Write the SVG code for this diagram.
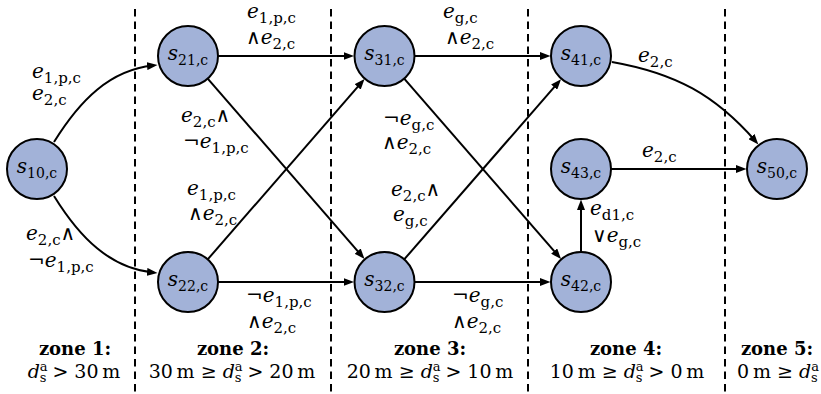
<svg xmlns="http://www.w3.org/2000/svg" width="821" height="394" viewBox="0 0 821 394">
<style>
text{font-family:"DejaVu Serif",serif;fill:#000}
.m{font-size:20px}
.n{font-size:20px}
.i{font-style:italic}
.sb{font-size:15px;font-style:normal}
.ns{font-size:14px;font-style:normal}
.b{font-weight:bold;font-size:18px}
.z{font-size:19px}
.zs{font-size:13px;font-style:normal}
.node circle{fill:#a2b2d8;stroke:#000;stroke-width:2}
.edge{fill:none;stroke:#000;stroke-width:2;marker-end:url(#ah)}
.zone{stroke:#000;stroke-width:2;stroke-dasharray:7.5 5}
</style>
<defs>
<marker id="ah" markerUnits="userSpaceOnUse" markerWidth="11" markerHeight="8" refX="6" refY="4" orient="auto">
<path d="M0,0 L10.5,4 L0,8 z" fill="#000"/>
</marker>
</defs>
<rect width="821" height="394" fill="#fff"/>
<g id="zones">
<line class="zone" x1="135" y1="9" x2="135" y2="394"/>
<line class="zone" x1="331" y1="9" x2="331" y2="394"/>
<line class="zone" x1="528" y1="9" x2="528" y2="394"/>
<line class="zone" x1="725" y1="9" x2="725" y2="394"/>
</g>
<g id="connectors">
<path class="edge" d="M54,142 C80,100 110,70 153,65.5"/>
<path class="edge" d="M54,196 C80,238 110,268 153,272.5"/>
<path class="edge" d="M218,56 H349.5"/>
<path class="edge" d="M414.5,56 H546"/>
<path class="edge" d="M218,282 H349.5"/>
<path class="edge" d="M414.5,282 H546"/>
<path class="edge" d="M207.7,78.6 L361.6,255.6"/>
<path class="edge" d="M207.7,259.4 L361.6,82.4"/>
<path class="edge" d="M404.2,78.6 L558.1,255.6"/>
<path class="edge" d="M404.2,259.4 L558.1,82.6"/>
<path class="edge" d="M581,252 V204"/>
<path class="edge" d="M611,169 H742"/>
<path class="edge" d="M612,62 C675.8,73.3 715,95 755.4,141"/>
</g>
<g id="edge-labels" class="m">
<text x="32" y="78"><tspan class="i">e</tspan><tspan class="sb" dy="5">1,p,c</tspan></text>
<text x="32" y="100"><tspan class="i">e</tspan><tspan class="sb" dy="5">2,c</tspan></text>
<text x="26" y="240"><tspan class="i">e</tspan><tspan class="sb" dy="5">2,c</tspan><tspan dy="-5">∧</tspan></text>
<text x="28" y="267"><tspan>¬</tspan><tspan class="i">e</tspan><tspan class="sb" dy="5">1,p,c</tspan></text>
<text x="247" y="18"><tspan class="i">e</tspan><tspan class="sb" dy="5">1,p,c</tspan></text>
<text x="246" y="44"><tspan>∧</tspan><tspan class="i">e</tspan><tspan class="sb" dy="5">2,c</tspan></text>
<text x="443" y="18"><tspan class="i">e</tspan><tspan class="sb" dy="5">g,c</tspan></text>
<text x="445" y="44"><tspan>∧</tspan><tspan class="i">e</tspan><tspan class="sb" dy="5">2,c</tspan></text>
<text x="181" y="122"><tspan class="i">e</tspan><tspan class="sb" dy="5">2,c</tspan><tspan dy="-5">∧</tspan></text>
<text x="183" y="148"><tspan>¬</tspan><tspan class="i">e</tspan><tspan class="sb" dy="5">1,p,c</tspan></text>
<text x="187" y="195"><tspan class="i">e</tspan><tspan class="sb" dy="5">1,p,c</tspan></text>
<text x="188" y="220"><tspan>∧</tspan><tspan class="i">e</tspan><tspan class="sb" dy="5">2,c</tspan></text>
<text x="383" y="125"><tspan>¬</tspan><tspan class="i">e</tspan><tspan class="sb" dy="5">g,c</tspan></text>
<text x="382" y="149"><tspan>∧</tspan><tspan class="i">e</tspan><tspan class="sb" dy="5">2,c</tspan></text>
<text x="391" y="196"><tspan class="i">e</tspan><tspan class="sb" dy="5">2,c</tspan><tspan dy="-5">∧</tspan></text>
<text x="393" y="221"><tspan class="i">e</tspan><tspan class="sb" dy="5">g,c</tspan></text>
<text x="246" y="302"><tspan>¬</tspan><tspan class="i">e</tspan><tspan class="sb" dy="5">1,p,c</tspan></text>
<text x="247" y="328"><tspan>∧</tspan><tspan class="i">e</tspan><tspan class="sb" dy="5">2,c</tspan></text>
<text x="452" y="302"><tspan>¬</tspan><tspan class="i">e</tspan><tspan class="sb" dy="5">g,c</tspan></text>
<text x="452" y="328"><tspan>∧</tspan><tspan class="i">e</tspan><tspan class="sb" dy="5">2,c</tspan></text>
<text x="638" y="62"><tspan class="i">e</tspan><tspan class="sb" dy="5">2,c</tspan></text>
<text x="642" y="157"><tspan class="i">e</tspan><tspan class="sb" dy="5">2,c</tspan></text>
<text x="590" y="215"><tspan class="i">e</tspan><tspan class="sb" dy="5">d1,c</tspan></text>
<text x="592" y="242"><tspan>∨</tspan><tspan class="i">e</tspan><tspan class="sb" dy="5">g,c</tspan></text>
</g>
<g id="nodes">
<g id="s10" class="node"><circle cx="37" cy="169" r="30"/><text class="n" x="37" y="173" text-anchor="middle"><tspan class="i">s</tspan><tspan class="ns" dy="5">10,c</tspan></text></g>
<g id="s21" class="node"><circle cx="188" cy="56" r="30"/><text class="n" x="188" y="60" text-anchor="middle"><tspan class="i">s</tspan><tspan class="ns" dy="5">21,c</tspan></text></g>
<g id="s22" class="node"><circle cx="188" cy="282" r="30"/><text class="n" x="188" y="286" text-anchor="middle"><tspan class="i">s</tspan><tspan class="ns" dy="5">22,c</tspan></text></g>
<g id="s31" class="node"><circle cx="384.5" cy="56" r="30"/><text class="n" x="384.5" y="60" text-anchor="middle"><tspan class="i">s</tspan><tspan class="ns" dy="5">31,c</tspan></text></g>
<g id="s32" class="node"><circle cx="384.5" cy="282" r="30"/><text class="n" x="384.5" y="286" text-anchor="middle"><tspan class="i">s</tspan><tspan class="ns" dy="5">32,c</tspan></text></g>
<g id="s41" class="node"><circle cx="581" cy="56" r="30"/><text class="n" x="581" y="60" text-anchor="middle"><tspan class="i">s</tspan><tspan class="ns" dy="5">41,c</tspan></text></g>
<g id="s42" class="node"><circle cx="581" cy="282" r="30"/><text class="n" x="581" y="286" text-anchor="middle"><tspan class="i">s</tspan><tspan class="ns" dy="5">42,c</tspan></text></g>
<g id="s43" class="node"><circle cx="581" cy="169" r="30"/><text class="n" x="581" y="173" text-anchor="middle"><tspan class="i">s</tspan><tspan class="ns" dy="5">43,c</tspan></text></g>
<g id="s50" class="node"><circle cx="777" cy="169" r="30"/><text class="n" x="777" y="173" text-anchor="middle"><tspan class="i">s</tspan><tspan class="ns" dy="5">50,c</tspan></text></g>
</g>
<g id="zone-labels" text-anchor="middle">
<text class="b" x="75" y="355">zone 1:</text>
<text class="z" x="74" y="378"><tspan class="i">d</tspan><tspan class="zs" dy="-7">a</tspan><tspan class="zs" dx="-7.9" dy="11">s</tspan><tspan dy="-4"> &gt; 30&#8201;m</tspan></text>
<text class="b" x="233" y="355">zone 2:</text>
<text class="z" x="232" y="378"><tspan>30&#8201;m ≥ </tspan><tspan class="i">d</tspan><tspan class="zs" dy="-7">a</tspan><tspan class="zs" dx="-7.9" dy="11">s</tspan><tspan dy="-4"> &gt; 20&#8201;m</tspan></text>
<text class="b" x="430" y="355">zone 3:</text>
<text class="z" x="430" y="378"><tspan>20&#8201;m ≥ </tspan><tspan class="i">d</tspan><tspan class="zs" dy="-7">a</tspan><tspan class="zs" dx="-7.9" dy="11">s</tspan><tspan dy="-4"> &gt; 10&#8201;m</tspan></text>
<text class="b" x="626" y="355">zone 4:</text>
<text class="z" x="627" y="378"><tspan>10&#8201;m ≥ </tspan><tspan class="i">d</tspan><tspan class="zs" dy="-7">a</tspan><tspan class="zs" dx="-7.9" dy="11">s</tspan><tspan dy="-4"> &gt; 0&#8201;m</tspan></text>
<text class="b" x="777" y="355">zone 5:</text>
<text class="z" x="778" y="378"><tspan>0&#8201;m ≥ </tspan><tspan class="i">d</tspan><tspan class="zs" dy="-7">a</tspan><tspan class="zs" dx="-7.9" dy="11">s</tspan></text>
</g>
</svg>
